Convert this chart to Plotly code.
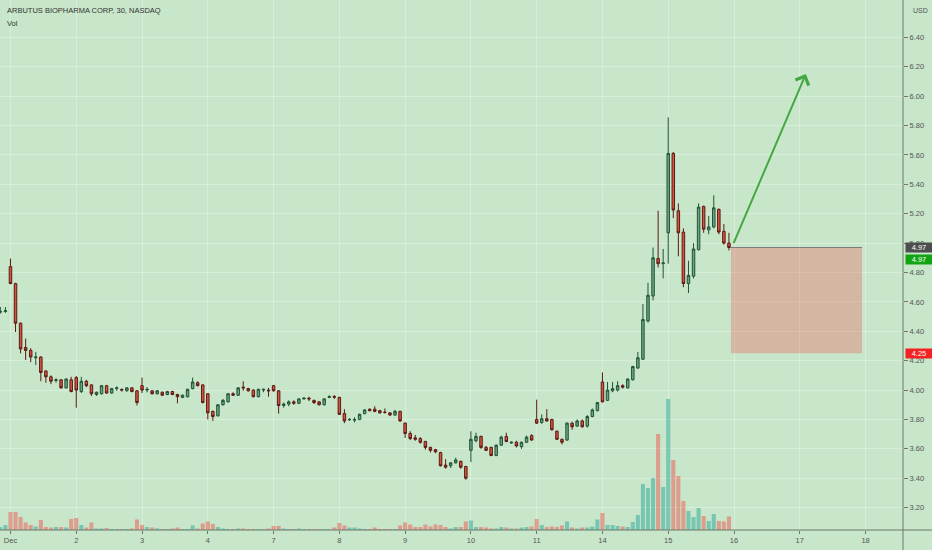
import plotly.graph_objects as go

# 30 min bars, ABUS, Nov 30 (last 2 bars) then Dec 1 .. Dec 15, 13 bars a day
day_labels = ['Dec', '2', '3', '4', '7', '8', '9', '10', '11', '14', '15', '16', '17', '18']
bars_per_day = 13

opens = [4.53, 4.535,
         4.84, 4.725, 4.455, 4.29, 4.27, 4.22, 4.225, 4.13, 4.09, 4.065, 4.07, 4.015, 4.07,
         4.085, 3.99, 4.06, 4.035, 3.97, 3.975, 4.03, 3.98, 4.01, 4.005, 3.995, 4.015, 3.995,
         4.03, 4.00, 3.995, 3.975, 3.985, 3.97, 3.99, 3.97, 3.95, 3.955, 4.01, 4.05, 4.035,
         3.975, 3.855, 3.825, 3.90, 3.92, 3.975, 3.965, 4.02, 4.01, 4.00, 3.955, 4.00, 4.00,
         4.03, 3.995, 3.895, 3.905, 3.92, 3.91, 3.94, 3.945, 3.93, 3.92, 3.90, 3.95, 3.957,
         3.95, 3.84, 3.798, 3.795, 3.80, 3.84, 3.87, 3.87, 3.86, 3.85, 3.845, 3.83, 3.855,
         3.775, 3.705, 3.675, 3.67, 3.65, 3.61, 3.595, 3.575, 3.49, 3.485, 3.505, 3.515, 3.48,
         3.59, 3.655, 3.685, 3.61, 3.61, 3.555, 3.625, 3.685, 3.64, 3.645, 3.615, 3.645, 3.69,
         3.80, 3.78, 3.805, 3.80, 3.72, 3.665, 3.66, 3.775, 3.755, 3.79, 3.755, 3.82, 3.86,
         4.055, 3.93, 3.995, 4.00, 4.03, 4.015, 4.07, 4.15, 4.21, 4.47, 4.64, 4.895, 4.86,
         5.07, 5.61, 5.22, 5.075, 4.725, 4.775, 4.955, 5.25, 5.09, 5.11, 5.23, 5.08, 5.00]

highs = [4.565, 4.565,
         4.895, 4.73, 4.46, 4.35, 4.285, 4.26, 4.23, 4.135, 4.10, 4.08, 4.075, 4.08, 4.09,
         4.095, 4.09, 4.07, 4.04, 3.99, 4.035, 4.035, 4.015, 4.025, 4.01, 4.02, 4.02, 4.00,
         4.085, 4.02, 4.00, 4.00, 3.99, 3.995, 3.995, 3.975, 3.97, 4.01, 4.085, 4.06, 4.04,
         3.98, 3.86, 3.905, 3.94, 3.98, 3.985, 4.02, 4.06, 4.015, 4.005, 4.01, 4.01, 4.015,
         4.035, 4.00, 3.915, 3.93, 3.93, 3.945, 3.95, 3.955, 3.935, 3.925, 3.945, 3.965, 3.965,
         3.955, 3.87, 3.81, 3.815, 3.84, 3.87, 3.875, 3.89, 3.865, 3.875, 3.85, 3.865, 3.86,
         3.78, 3.72, 3.695, 3.68, 3.655, 3.615, 3.60, 3.58, 3.53, 3.51, 3.54, 3.52, 3.485,
         3.72, 3.71, 3.69, 3.62, 3.615, 3.63, 3.69, 3.71, 3.65, 3.655, 3.65, 3.69, 3.70,
         3.935, 3.835, 3.87, 3.805, 3.725, 3.67, 3.78, 3.785, 3.80, 3.80, 3.83, 3.875, 3.92,
         4.12, 4.055, 4.055, 4.06, 4.04, 4.08, 4.165, 4.26, 4.585, 4.73, 4.97, 5.22, 4.96,
         5.855, 5.62, 5.27, 5.10, 4.88, 5.00, 5.27, 5.255, 5.185, 5.325, 5.235, 5.13, 5.07]

lows = [4.52, 4.525,
        4.72, 4.395, 4.25, 4.205, 4.19, 4.17, 4.06, 4.05, 4.04, 4.05, 4.01, 4.01, 3.985,
        3.88, 3.98, 4.02, 3.96, 3.96, 3.97, 3.975, 3.975, 3.995, 3.99, 3.99, 3.985, 3.895,
        3.98, 3.985, 3.97, 3.97, 3.96, 3.965, 3.965, 3.91, 3.945, 3.95, 4.005, 4.025, 3.91,
        3.80, 3.79, 3.82, 3.895, 3.915, 3.96, 3.96, 3.995, 3.99, 3.95, 3.95, 3.985, 3.955,
        3.99, 3.84, 3.88, 3.89, 3.90, 3.905, 3.935, 3.925, 3.905, 3.895, 3.895, 3.945, 3.94,
        3.83, 3.775, 3.79, 3.78, 3.795, 3.835, 3.855, 3.85, 3.84, 3.84, 3.825, 3.825, 3.785,
        3.675, 3.66, 3.655, 3.635, 3.595, 3.575, 3.57, 3.48, 3.465, 3.47, 3.50, 3.465, 3.39,
        3.51, 3.645, 3.60, 3.585, 3.55, 3.55, 3.62, 3.645, 3.635, 3.61, 3.60, 3.64, 3.655,
        3.77, 3.77, 3.785, 3.725, 3.66, 3.63, 3.655, 3.73, 3.75, 3.745, 3.745, 3.815, 3.855,
        3.915, 3.925, 3.985, 3.99, 4.01, 4.01, 4.065, 4.145, 4.205, 4.46, 4.61, 4.835, 4.76,
        4.86, 5.17, 4.91, 4.70, 4.66, 4.76, 4.95, 5.07, 5.06, 5.10, 5.06, 4.99, 4.95]

closes = [4.535, 4.54,
          4.725, 4.455, 4.28, 4.27, 4.225, 4.225, 4.12, 4.09, 4.06, 4.07, 4.015, 4.075, 3.99,
          4.00, 4.06, 4.03, 3.975, 3.985, 4.03, 3.98, 4.01, 4.015, 4.00, 4.015, 3.99, 3.915,
          4.00, 4.005, 3.975, 3.995, 3.965, 3.99, 3.97, 3.955, 3.965, 4.005, 4.055, 4.03, 3.915,
          3.845, 3.82, 3.90, 3.93, 3.975, 3.965, 4.015, 4.015, 3.995, 3.955, 4.005, 4.005, 3.995,
          3.995, 3.895, 3.905, 3.92, 3.91, 3.94, 3.945, 3.94, 3.915, 3.90, 3.94, 3.955, 3.952,
          3.835, 3.79, 3.80, 3.80, 3.835, 3.865, 3.86, 3.855, 3.845, 3.848, 3.83, 3.855, 3.79,
          3.705, 3.67, 3.665, 3.645, 3.61, 3.59, 3.58, 3.485, 3.475, 3.505, 3.525, 3.475, 3.40,
          3.665, 3.685, 3.61, 3.59, 3.555, 3.625, 3.68, 3.65, 3.645, 3.62, 3.645, 3.68, 3.66,
          3.775, 3.805, 3.79, 3.73, 3.665, 3.645, 3.775, 3.75, 3.79, 3.75, 3.82, 3.865, 3.915,
          3.92, 4.00, 4.01, 4.03, 4.02, 4.075, 4.16, 4.22, 4.48, 4.645, 4.90, 4.86, 4.865,
          5.61, 5.225, 5.07, 4.725, 4.78, 4.96, 5.245, 5.095, 5.11, 5.24, 5.075, 5.00, 4.97]

# volume, thousands of shares
volumes = [60, 100,
           360, 360, 260, 150, 100, 70, 200, 60, 50, 60, 60, 50, 220,
           240, 100, 50, 150, 30, 30, 40, 20, 20, 20, 20, 30, 210,
           100, 60, 50, 30, 20, 20, 30, 50, 20, 20, 90, 30, 130,
           170, 120, 60, 30, 20, 20, 30, 30, 20, 20, 20, 16, 30,
           80, 80, 30, 20, 20, 30, 16, 16, 20, 16, 16, 16, 50,
           140, 90, 50, 50, 30, 20, 20, 50, 20, 20, 20, 20, 90,
           150, 110, 60, 60, 110, 70, 110, 100, 60, 30, 60, 60, 170,
           190, 60, 60, 50, 30, 30, 60, 50, 30, 30, 50, 60, 70,
           220, 100, 60, 70, 60, 90, 170, 50, 30, 50, 50, 70, 210,
           340, 100, 100, 80, 70, 60, 160, 300, 920, 840, 1040, 1920, 860,
           2620, 1400, 1080, 580, 380, 260, 440, 280, 180, 320, 180, 170, 270]

price_ticks = [3.2, 3.4, 3.6, 3.8, 4.0, 4.2, 4.4, 4.6, 4.8, 5.0, 5.2, 5.4, 5.6, 5.8, 6.0, 6.2, 6.4]

# long position drawing + arrow (bar index / price)
entry_price = 4.97
stop_price = 4.25
box_start = 142.4
box_end = 168.3
arrow_from = (142.8, 4.99)
arrow_to = (157.2, 6.15)

bg = '#c8e6c9'
grid = 'rgba(255,255,255,0.32)'
axis_col = '#6b786b'
txt = '#4a4a4a'
fnt = 'Liberation Sans'

x = list(range(-2, len(opens) - 2))
vol_colors = ['rgba(38,166,154,0.5)' if c >= o else 'rgba(239,83,80,0.5)'
              for o, c in zip(opens, closes)]

fig = go.Figure()
fig.add_trace(go.Bar(x=x, y=volumes, marker_color=vol_colors, marker_line_width=0,
                     yaxis='y', hoverinfo='skip'))
fig.add_trace(go.Candlestick(
    x=x, open=opens, high=highs, low=lows, close=closes, yaxis='y2',
    increasing=dict(fillcolor='#6ba583', line=dict(color='#225437', width=1)),
    decreasing=dict(fillcolor='#d75442', line=dict(color='#5b1a13', width=1)),
))

tickvals = [i * bars_per_day for i in range(len(day_labels))]

fig.update_layout(
    width=932, height=550, autosize=False,
    margin=dict(l=0, r=29, t=0, b=20),
    paper_bgcolor=bg, plot_bgcolor=bg,
    showlegend=False, bargap=0.2,
    font=dict(family=fnt, size=8, color=txt),
    xaxis=dict(range=[-2.07, 176.4], tickvals=tickvals, ticktext=day_labels,
               showgrid=True, gridcolor=grid, gridwidth=1, zeroline=False,
               ticks='outside', ticklen=3, tickcolor=axis_col, showline=False,
               tickfont=dict(family=fnt, size=7.5, color='#555'),
               rangeslider=dict(visible=False)),
    yaxis=dict(range=[0, 10600], visible=False, showgrid=False, zeroline=False),
    yaxis2=dict(overlaying='y', side='right', range=[3.048, 6.654],
                tickvals=price_ticks, ticktext=['%.2f' % p for p in price_ticks],
                showgrid=True, gridcolor=grid, zeroline=False,
                ticks='outside', ticklen=4, tickcolor=axis_col, showline=False,
                tickfont=dict(family=fnt, size=7.5, color='#555')),
)

# frame lines of the price / time scales
fig.add_shape(type='line', xref='paper', yref='paper', x0=1, x1=1, y0=-0.04, y1=1,
              line=dict(color=axis_col, width=1))
fig.add_shape(type='line', xref='paper', yref='paper', x0=0, x1=1.04, y0=0, y1=0,
              line=dict(color=axis_col, width=1))

# position box
fig.add_shape(type='rect', xref='x', yref='y2', x0=box_start, x1=box_end,
              y0=stop_price, y1=entry_price, fillcolor='rgba(239,83,80,0.32)',
              line=dict(width=0), layer='above')
fig.add_shape(type='line', xref='x', yref='y2', x0=box_start, x1=box_end,
              y0=entry_price, y1=entry_price, line=dict(color='#7d7d7d', width=1))

fig.add_annotation(x=arrow_to[0], y=arrow_to[1], ax=arrow_from[0], ay=arrow_from[1],
                   xref='x', yref='y2', axref='x', ayref='y2', text='',
                   showarrow=True, arrowhead=4, arrowsize=1.4, arrowwidth=2,
                   arrowcolor='#43a843')

# text
fig.add_annotation(x=0, y=1, xref='paper', yref='paper', xanchor='left', yanchor='middle',
                   xshift=5, yshift=-10, text='ARBUTUS BIOPHARMA CORP, 30, NASDAQ',
                   showarrow=False, font=dict(family=fnt, size=7.5, color='#333'))
fig.add_annotation(x=0, y=1, xref='paper', yref='paper', xanchor='left', yanchor='middle',
                   xshift=5, yshift=-23, text='Vol', showarrow=False,
                   font=dict(family=fnt, size=7.5, color='#333'))
fig.add_annotation(x=1, y=1, xref='paper', yref='paper', xanchor='left', yanchor='middle',
                   xshift=8, yshift=-10, text='USD', showarrow=False,
                   font=dict(family=fnt, size=7, color='#555'))

# price scale labels
for price, color, shift in [(closes[-1], '#4d4d4d', 0), (entry_price, '#12a312', -11.5),
                            (stop_price, '#f22222', 0)]:
    fig.add_annotation(x=1, y=price, xref='paper', yref='y2', xanchor='left',
                       yanchor='middle', xshift=2, yshift=shift, text='%.2f' % price,
                       showarrow=False, bgcolor=color, width=26, height=9, borderpad=0,
                       font=dict(family=fnt, size=7.5, color='white'))

fig.write_html("out.html", config={'displayModeBar': False},
               post_script="document.body.style.margin='0';")
